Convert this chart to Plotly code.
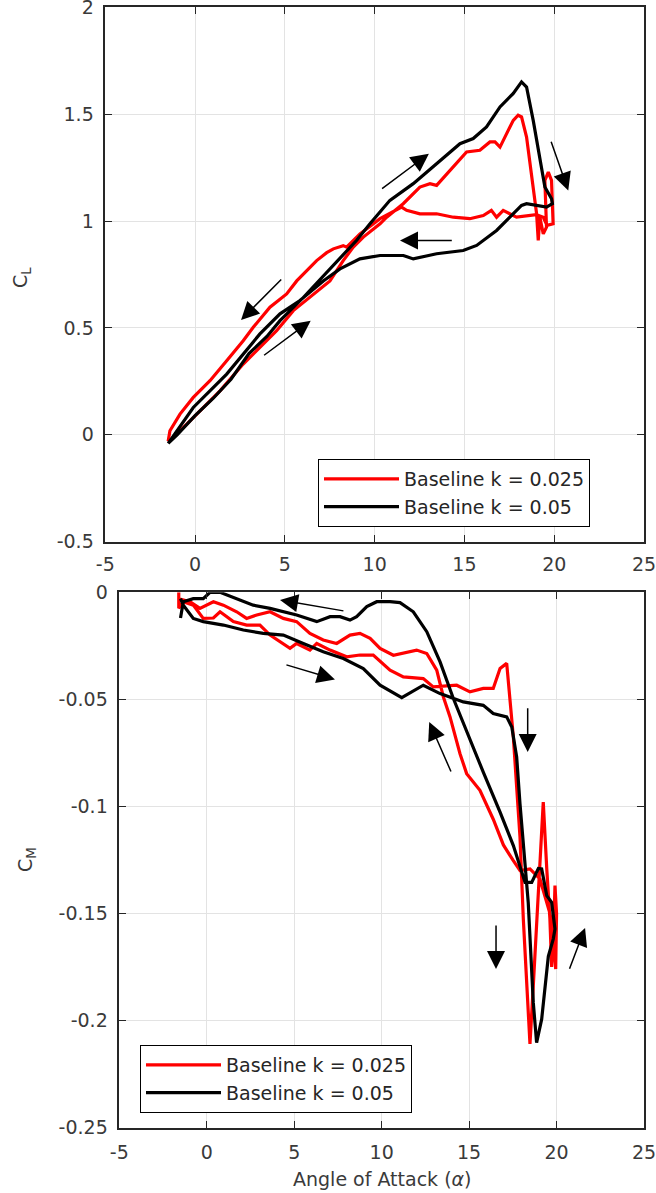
import plotly.graph_objects as go

# ---------------- data ----------------
alpha_cl_k025 = [-1.5, -1.4, -0.1, 1.39, 2.68, 3.61, 4.54, 5.47, 6.4, 7.51, 8.25, 8.81, 9.37, 10.3, 10.67,
                 11.59, 12.52, 13.08, 13.45, 14.19, 15.12, 15.86, 16.42, 16.7, 16.98, 17.35, 17.72, 17.99,
                 18.18, 18.46, 18.83, 19.02, 19.11, 19.2, 19.39, 19.57, 19.48, 19.67, 19.85, 19.94, 19.6,
                 19.39, 19.0, 17.9, 17.16, 16.79, 16.5, 16.05, 15.3, 14.38, 13.45, 12.52, 11.78, 11.5,
                 10.3, 9.18, 8.44, 8.25, 7.7, 7.33, 6.77, 6.21, 5.66, 5.1, 4.17, 3.24, 2.68, 1.76, 0.83,
                 -0.1, -0.84, -1.4, -1.5]
cl_k025 = [-0.03, -0.028, 0.081, 0.206, 0.331, 0.409, 0.487, 0.581, 0.643, 0.72, 0.815, 0.878, 0.925,
           0.987, 1.018, 1.081, 1.159, 1.175, 1.167, 1.237, 1.323, 1.331, 1.37, 1.37, 1.346, 1.409, 1.471,
           1.495, 1.487, 1.393, 1.159, 1.034, 0.909, 1.018, 0.94, 0.971, 1.19, 1.229, 1.19, 0.987, 0.98,
           1.018, 1.03, 1.018, 1.05, 1.018, 1.05, 1.026, 1.011, 1.018, 1.034, 1.034, 1.05, 1.065, 1.011,
           0.94, 0.878, 0.885, 0.87, 0.852, 0.815, 0.768, 0.72, 0.659, 0.597, 0.503, 0.44, 0.347, 0.253,
           0.175, 0.097, 0.019, -0.03]

alpha_cl_k05 = [-1.5, -1.0, 0.0, 1.0, 2.0, 3.0, 4.0, 4.73, 6.0, 7.0, 8.0, 9.0, 9.74, 10.85, 12.15, 13.45,
                14.75, 15.49, 16.23, 16.98, 17.72, 18.18, 18.46, 18.83, 19.2, 19.48, 19.85, 19.9, 19.57,
                19.02, 18.46, 18.18, 17.72, 16.79, 15.68, 14.93, 13.45, 12.15, 11.6, 10.3, 9.18, 8.07,
                7.14, 5.84, 4.73, 3.61, 1.76, -0.1, -1.4, -1.5]
cl_k05 = [-0.04, 0.0, 0.09, 0.17, 0.26, 0.38, 0.46, 0.534, 0.64, 0.73, 0.82, 0.91, 0.987, 1.097, 1.175,
          1.268, 1.362, 1.386, 1.44, 1.534, 1.597, 1.651, 1.627, 1.471, 1.284, 1.159, 1.104, 1.081, 1.065,
          1.073, 1.081, 1.073, 1.034, 0.956, 0.886, 0.862, 0.847, 0.823, 0.839, 0.839, 0.823, 0.776,
          0.72, 0.628, 0.566, 0.472, 0.284, 0.128, -0.028, -0.04]

alpha_cm_k025 = [-1.6, -1.6, -1.34, -0.77, -0.2, 0.38, 0.76, 1.52, 2.28, 3.04, 3.62, 4.19, 4.76, 5.14, 5.9,
                 6.29, 7.05, 8.0, 8.76, 9.52, 10.48, 11.24, 12.38, 12.95, 14.29, 15.05, 15.81, 16.38, 16.77,
                 17.15, 17.34, 17.53, 17.72, 17.91, 18.1, 18.38, 18.48, 18.67, 18.96, 19.15, 19.24, 19.44,
                 19.62, 19.72, 19.81, 19.91, 20.0, 19.95, 19.85, 19.62, 19.05, 18.48, 17.91, 17.5, 16.96,
                 16.38, 15.62, 14.86, 14.48, 13.91, 13.53, 13.15, 12.58, 12.0, 10.67, 9.91, 9.34, 8.76,
                 8.19, 7.43, 6.66, 5.9, 5.14, 4.38, 3.62, 2.86, 2.28, 1.71, 0.95, 0.38, -0.39, -0.96, -1.6]
cm_k025 = [0.0, -0.0075, -0.0044, -0.006, -0.0122, -0.012, -0.0091, -0.0137, -0.0153, -0.0153, -0.02,
           -0.0231, -0.0262, -0.0239, -0.027, -0.0239, -0.027, -0.0301, -0.0293, -0.0293, -0.0364, -0.0395,
           -0.0403, -0.0442, -0.0434, -0.0465, -0.0449, -0.0449, -0.0356, -0.0332, -0.0489, -0.0676,
           -0.091, -0.1144, -0.1526, -0.1963, -0.211, -0.1838, -0.137, -0.1058, -0.098, -0.1292, -0.1526,
           -0.175, -0.165, -0.137, -0.15, -0.176, -0.16, -0.15, -0.1339, -0.1292, -0.13, -0.125, -0.118,
           -0.106, -0.0925, -0.0847, -0.0754, -0.0582, -0.0489, -0.0364, -0.0286, -0.027, -0.0294,
           -0.0262, -0.0215, -0.0192, -0.02, -0.0239, -0.0223, -0.0192, -0.0137, -0.0122, -0.0091,
           -0.0106, -0.0122, -0.0091, -0.006, -0.0044, -0.0075, -0.0044, -0.003]

alpha_cm_k05 = [-1.5, -1.34, -0.77, -0.2, 0.95, 2.09, 3.23, 4.38, 5.52, 6.66, 7.81, 8.95, 9.91, 11.15,
                12.38, 13.34, 14.67, 15.81, 16.38, 17.15, 17.44, 17.72, 17.91, 18.1, 18.38, 18.67, 18.86,
                19.15, 19.44, 19.53, 19.81, 19.91, 19.72, 19.44, 19.15, 18.96, 18.58, 18.2, 17.53, 16.77,
                15.81, 14.86, 14.1, 13.34, 12.58, 11.81, 11.05, 10.48, 9.72, 9.15, 8.57, 8.19, 7.62, 7.05,
                6.29, 5.14, 3.62, 2.66, 1.71, 0.76, 0.19, -0.2, -0.77, -1.34, -1.5]
cm_k05 = [-0.003, -0.006, -0.0122, -0.0137, -0.0153, -0.0176, -0.0192, -0.02, -0.0239, -0.0278, -0.0309,
          -0.0356, -0.0434, -0.0492, -0.0434, -0.0473, -0.0512, -0.0528, -0.0566, -0.0582, -0.0629,
          -0.0769, -0.0988, -0.1158, -0.1448, -0.1917, -0.2104, -0.1994, -0.176, -0.17, -0.162, -0.1573,
          -0.1448, -0.1417, -0.1292, -0.129, -0.1355, -0.1355, -0.1183, -0.1027, -0.084, -0.0653,
          -0.0496, -0.0325, -0.0184, -0.0091, -0.0048, -0.0044, -0.0044, -0.0067, -0.0114, -0.013,
          -0.0114, -0.0114, -0.0137, -0.0106, -0.0075, -0.006, -0.0028, 0.0, 0.0, -0.003, -0.003,
          -0.0044, -0.012]

series_names = ["Baseline k = 0.025", "Baseline k = 0.05"]
series_colors = ["#ff0000", "#000000"]

x_ticks = [-5, 0, 5, 10, 15, 20, 25]
x_ticklabels = ["-5", "0", "5", "10", "15", "20", "25"]
cl_ticks = [-0.5, 0, 0.5, 1, 1.5, 2]
cl_ticklabels = ["-0.5", "0", "0.5", "1", "1.5", "2"]
cm_ticks = [-0.25, -0.2, -0.15, -0.1, -0.05, 0]
cm_ticklabels = ["-0.25", "-0.2", "-0.15", "-0.1", "-0.05", "0"]

# arrows: (tail_x, tail_y, head_x, head_y)
cl_arrows = [(10.33, 1.147, 13.02, 1.315), (19.8, 1.378, 20.78, 1.143), (14.38, 0.909, 11.41, 0.909),
             (4.88, 0.734, 2.56, 0.537), (3.76, 0.367, 6.44, 0.534)]
cm_arrows = [(7.9, -0.0088, 4.19, -0.0036), (4.47, -0.0337, 7.33, -0.0407), (14.0, -0.0844, 12.72, -0.0606),
             (18.35, -0.0535, 18.35, -0.0746), (16.54, -0.155, 16.54, -0.176), (20.71, -0.1765, 21.63, -0.1568)]

# ---------------- figure ----------------
W, H = 656, 1193
FONT = "DejaVu Sans"
TXT = "#3a3a3a"
fig = go.Figure()

for name, col, xs, ys in zip(series_names, series_colors,
                             [alpha_cl_k025, alpha_cl_k05], [cl_k025, cl_k05]):
    fig.add_trace(go.Scatter(x=xs, y=ys, mode="lines", name=name,
                             line=dict(color=col, width=3.2), xaxis="x", yaxis="y",
                             legend="legend"))
for name, col, xs, ys in zip(series_names, series_colors,
                             [alpha_cm_k025, alpha_cm_k05], [cm_k025, cm_k05]):
    fig.add_trace(go.Scatter(x=xs, y=ys, mode="lines", name=name,
                             line=dict(color=col, width=3.2), xaxis="x2", yaxis="y2",
                             legend="legend2"))

axis_common = dict(showline=True, linecolor="#262626", linewidth=1.5, mirror="ticks",
                   ticks="inside", ticklen=7, tickwidth=1.3, tickcolor="#262626",
                   showgrid=True, gridcolor="#e3e3e3", gridwidth=1, zeroline=False,
                   automargin=False, ticklabeloverflow="allow",
                   tickfont=dict(family=FONT, size=19, color=TXT))

fig.update_layout(
    width=W, height=H, margin=dict(l=0, r=0, t=0, b=0),
    paper_bgcolor="white", plot_bgcolor="white",
    font=dict(family=FONT, color=TXT),
    xaxis=dict(domain=[105.3 / W, 644 / W], range=[-5, 25], tickvals=x_ticks, ticktext=x_ticklabels,
               anchor="y", ticklabelstandoff=5, **axis_common),
    yaxis=dict(domain=[1 - 541.7 / H, 1 - 7.3 / H], range=[-0.5, 2], tickvals=cl_ticks,
               ticktext=cl_ticklabels, anchor="x", ticklabelstandoff=6, **axis_common),
    xaxis2=dict(domain=[119.3 / W, 644 / W], range=[-5, 25], tickvals=x_ticks, ticktext=x_ticklabels,
                anchor="y2", ticklabelstandoff=7, **axis_common),
    yaxis2=dict(domain=[1 - 1127.5 / H, 1 - 592.3 / H], range=[-0.25, 0], tickvals=cm_ticks,
                ticktext=cm_ticklabels, anchor="x2", ticklabelstandoff=6, **axis_common),
    legend=dict(x=318 / W, y=1 - 459 / H, xanchor="left", yanchor="top", bgcolor="white",
                bordercolor="#000000", borderwidth=1, itemwidth=75,
                font=dict(family=FONT, size=19, color="#262626")),
    legend2=dict(x=140 / W, y=1 - 1045 / H, xanchor="left", yanchor="top", bgcolor="white",
                 bordercolor="#000000", borderwidth=1, itemwidth=75,
                 font=dict(family=FONT, size=19, color="#262626")),
)

annotations = []
for tx, ty, hx, hy in cl_arrows:
    annotations.append(dict(x=hx, y=hy, ax=tx, ay=ty, xref="x", yref="y", axref="x", ayref="y",
                            text="", showarrow=True, arrowhead=2, arrowsize=2.4, arrowwidth=1.5,
                            arrowcolor="black", standoff=0))
for tx, ty, hx, hy in cm_arrows:
    annotations.append(dict(x=hx, y=hy, ax=tx, ay=ty, xref="x2", yref="y2", axref="x2", ayref="y2",
                            text="", showarrow=True, arrowhead=2, arrowsize=2.4, arrowwidth=1.5,
                            arrowcolor="black", standoff=0))

annotations.append(dict(x=22 / W, y=1 - 278 / H, xref="paper", yref="paper", text="C<sub>L</sub>",
                        textangle=-90, showarrow=False, xanchor="center", yanchor="middle",
                        font=dict(family=FONT, size=19, color=TXT)))
annotations.append(dict(x=26 / W, y=1 - 860 / H, xref="paper", yref="paper", text="C<sub>M</sub>",
                        textangle=-90, showarrow=False, xanchor="center", yanchor="middle",
                        font=dict(family=FONT, size=19, color=TXT)))
annotations.append(dict(x=382 / W, y=1 - 1179 / H, xref="paper", yref="paper",
                        text="Angle of Attack (<i>α</i>)", showarrow=False,
                        xanchor="center", yanchor="middle",
                        font=dict(family=FONT, size=19, color=TXT)))
fig.update_layout(annotations=annotations)

fig.write_html("out.html")
